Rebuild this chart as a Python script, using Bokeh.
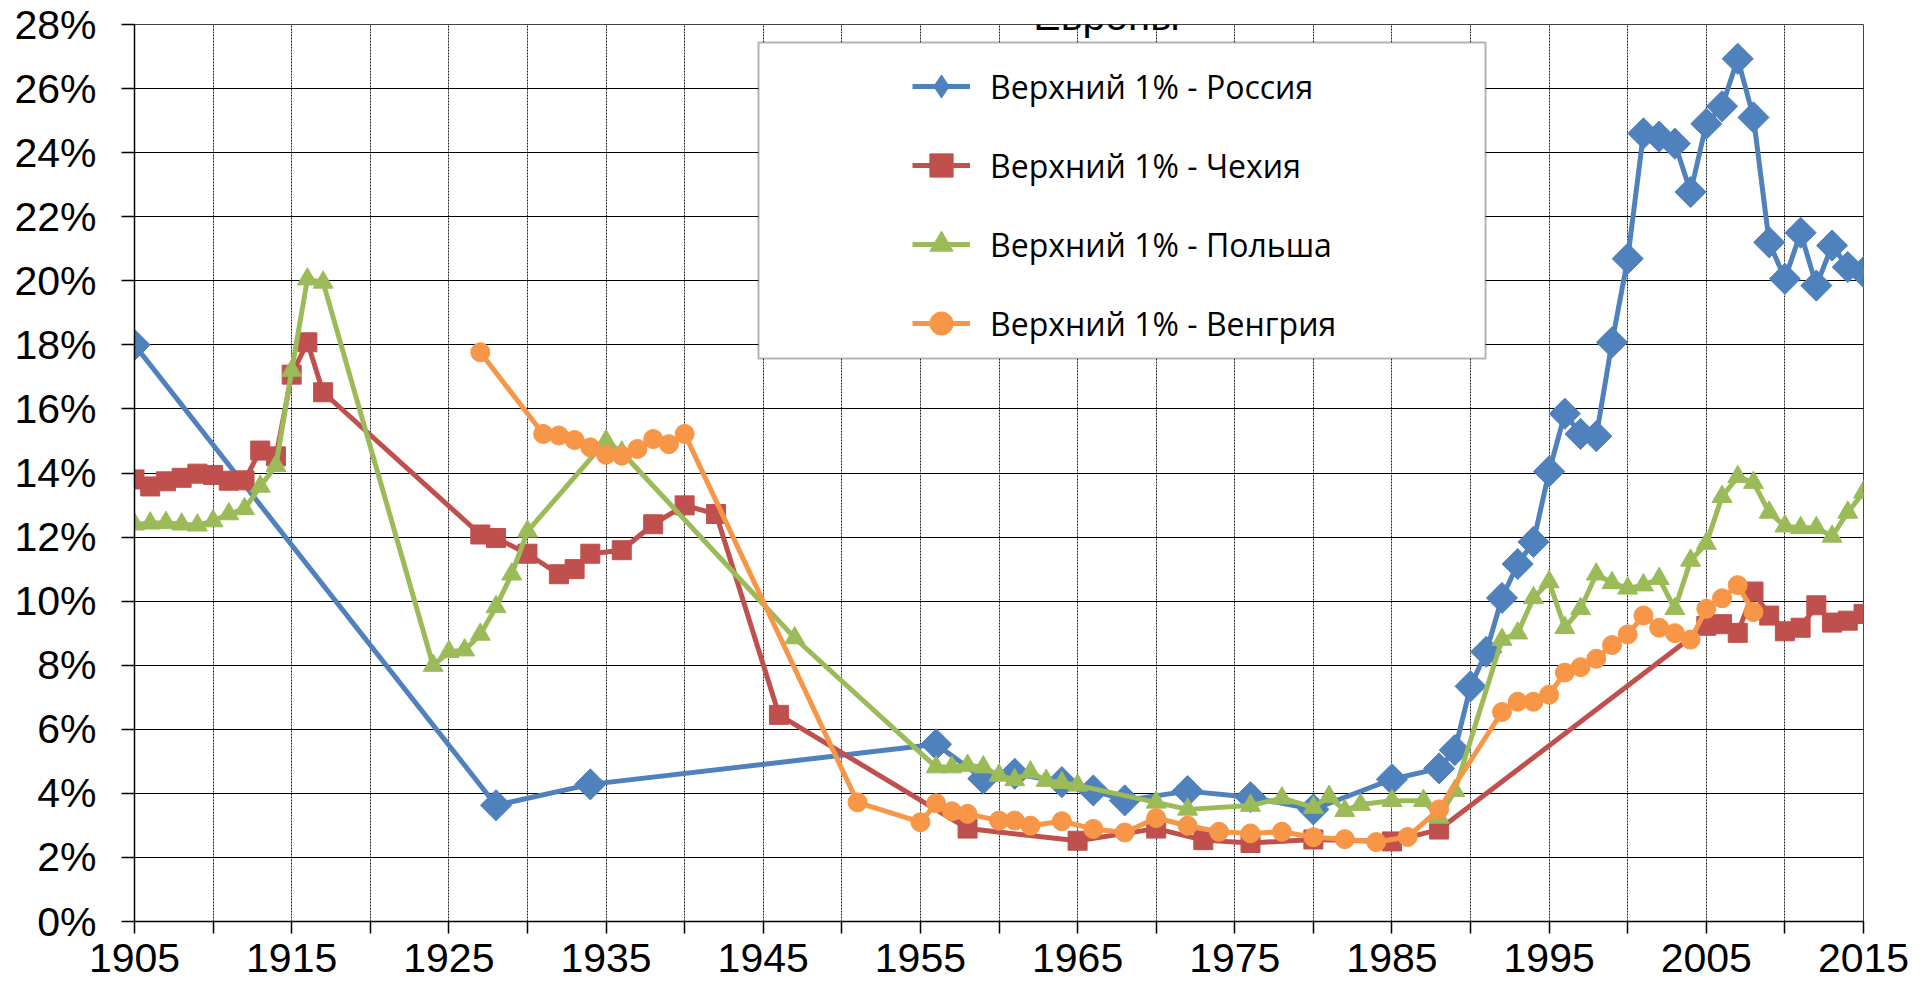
import numpy as np
from bokeh.plotting import figure
from bokeh.models import (Range1d, FixedTicker, PrintfTickFormatter, Legend,
                          LegendItem, BoxAnnotation, Label)
from bokeh.embed import file_html
from bokeh.resources import INLINE

# ---------------- data ----------------
russia_years = [1905, 1928, 1934, 1956, 1959, 1961, 1964, 1966, 1968, 1972, 1976, 1980,
                1985, 1988, 1989, 1990, 1991, 1992, 1993, 1994, 1995, 1996, 1997, 1998,
                1999, 2000, 2001, 2002, 2003, 2004, 2005, 2006, 2007, 2008, 2009, 2010,
                2011, 2012, 2013, 2014, 2015]
russia_share = [18.0, 3.63, 4.28, 5.53, 4.46, 4.61, 4.35, 4.09, 3.78, 4.07, 3.88, 3.5,
                4.44, 4.78, 5.35, 7.34, 8.42, 10.1, 11.16, 11.85, 14.05, 15.85, 15.22, 15.15,
                18.08, 20.69, 24.6, 24.5, 24.28, 22.77, 24.9, 25.45, 26.93, 25.1, 21.2, 20.06,
                21.5, 19.85, 21.1, 20.43, 20.27]

czech_years = [1905, 1906, 1907, 1908, 1909, 1910, 1911, 1912, 1913, 1914, 1915, 1916,
               1917, 1927, 1928, 1930, 1932, 1933, 1934, 1936, 1938, 1940, 1942, 1946,
               1958, 1965, 1970, 1973, 1976, 1980, 1985, 1988, 2005, 2006, 2007, 2008,
               2009, 2010, 2011, 2012, 2013, 2014, 2015]
czech_share = [13.8, 13.58, 13.74, 13.85, 13.98, 13.94, 13.76, 13.77, 14.7, 14.52, 17.07, 18.08,
               16.52, 12.08, 11.97, 11.48, 10.84, 11.0, 11.48, 11.59, 12.4, 12.99, 12.72, 6.45,
               2.9, 2.52, 2.9, 2.54, 2.45, 2.56, 2.5, 2.87, 9.23, 9.28, 9.01, 10.3,
               9.55, 9.06, 9.17, 9.87, 9.33, 9.39, 9.6]

poland_years = [1905, 1906, 1907, 1908, 1909, 1910, 1911, 1912, 1913, 1914, 1915, 1916,
                1917, 1924, 1925, 1926, 1927, 1928, 1929, 1930, 1935, 1936, 1947, 1956,
                1957, 1958, 1959, 1960, 1961, 1962, 1963, 1964, 1965, 1970, 1972, 1976,
                1978, 1980, 1981, 1982, 1983, 1985, 1987, 1988, 1989, 1992, 1993, 1994,
                1995, 1996, 1997, 1998, 1999, 2000, 2001, 2002, 2003, 2004, 2005, 2006,
                2007, 2008, 2009, 2010, 2011, 2012, 2013, 2014, 2015]
poland_share = [12.4, 12.43, 12.45, 12.4, 12.37, 12.5, 12.72, 12.88, 13.58, 14.23, 17.2, 20.05,
                19.95, 7.99, 8.42, 8.47, 8.96, 9.82, 10.84, 12.18, 15.0, 14.65, 8.85, 4.82,
                4.82, 4.87, 4.82, 4.56, 4.42, 4.66, 4.4, 4.33, 4.25, 3.72, 3.5, 3.62,
                3.85, 3.56, 3.9, 3.46, 3.65, 3.77, 3.77, 3.25, 4.08, 8.8, 9.0, 10.1,
                10.6, 9.17, 9.76, 10.84, 10.57, 10.4, 10.5, 10.7, 9.76, 11.27, 11.8, 13.26,
                13.88, 13.7, 12.77, 12.34, 12.29, 12.29, 12.02, 12.77, 13.4]

hungary_years = [1927, 1931, 1932, 1933, 1934, 1935, 1936, 1937, 1938, 1939, 1940, 1951,
                 1955, 1956, 1957, 1958, 1960, 1961, 1962, 1964, 1966, 1968, 1970, 1972,
                 1974, 1976, 1978, 1980, 1982, 1984, 1986, 1988, 1992, 1993, 1994, 1995,
                 1996, 1997, 1998, 1999, 2000, 2001, 2002, 2003, 2004, 2005, 2006, 2007,
                 2008]
hungary_share = [17.77, 15.22, 15.17, 15.03, 14.8, 14.57, 14.54, 14.75, 15.06, 14.9, 15.22, 3.72,
                 3.1, 3.69, 3.44, 3.36, 3.15, 3.15, 2.99, 3.13, 2.89, 2.78, 3.23, 2.99,
                 2.8, 2.75, 2.8, 2.63, 2.57, 2.48, 2.64, 3.5, 6.54, 6.86, 6.86, 7.08,
                 7.77, 7.94, 8.2, 8.63, 8.96, 9.55, 9.17, 9.0, 8.8, 9.76, 10.09, 10.5,
                 9.66]

series_names = ["Верхний 1% - Россия", "Верхний 1% - Чехия",
                "Верхний 1% - Польша", "Верхний 1% - Венгрия"]
title_text = "Европы"
y_ticks = [0, 2, 4, 6, 8, 10, 12, 14, 16, 18, 20, 22, 24, 26, 28]
x_ticks = list(range(1905, 2016, 5))
x_labeled = list(range(1905, 2016, 10))

# ---------------- styles ----------------
BLUE, RED, GREEN, ORANGE = "#4F81BD", "#C0504D", "#9BBB59", "#F79646"
LW = 5

p = figure(width=1926, height=990,
           x_range=Range1d(1905, 2015), y_range=Range1d(0, 28),
           output_backend="svg", toolbar_location=None,
           min_border_left=134, min_border_right=63,
           min_border_top=24, min_border_bottom=69)
p.background_fill_color = "white"
p.border_fill_color = "white"
p.outline_line_color = "#444444"
p.outline_line_width = 1

# axes
for ax in (p.xaxis[0], p.yaxis[0]):
    ax.axis_line_color = "black"
    ax.axis_line_width = 1.5
    ax.major_tick_line_color = "black"
    ax.major_tick_line_width = 1.5
    ax.major_tick_in = 0
    ax.minor_tick_line_color = None
    ax.major_label_text_font = "Liberation Sans"
    ax.major_label_text_font_size = "41px"
    ax.major_label_text_color = "black"

p.xaxis.ticker = FixedTicker(ticks=x_ticks)
p.xaxis.major_label_overrides = {t: (str(t) if t in x_labeled else "") for t in x_ticks}
p.xaxis.major_tick_out = 12
p.xaxis.major_label_standoff = 10

p.yaxis.ticker = FixedTicker(ticks=y_ticks)
p.yaxis.formatter = PrintfTickFormatter(format="%d%%")
p.yaxis.major_tick_out = 13
p.yaxis.major_label_standoff = 25

# grids
p.xgrid.ticker = FixedTicker(ticks=x_ticks)
p.xgrid.grid_line_color = "#222222"
p.xgrid.grid_line_dash = "2 1"
p.xgrid.grid_line_width = 1
p.ygrid.ticker = FixedTicker(ticks=y_ticks)
p.ygrid.grid_line_color = "black"
p.ygrid.grid_line_width = 1

# ---------------- series ----------------
ru_line = p.line(russia_years, russia_share, line_color=BLUE, line_width=LW, line_join="round")
ru_leg = p.scatter(russia_years, russia_share, marker="diamond", size=10,
                   fill_color=BLUE, line_color=BLUE)
ru_pts = p.scatter(russia_years, russia_share, marker="square", size=22, angle=np.pi / 4,
                   fill_color=BLUE, line_color=BLUE)

cz_line = p.line(czech_years, czech_share, line_color=RED, line_width=LW, line_join="round")
cz_pts = p.scatter(czech_years, czech_share, marker="square", size=19,
                   fill_color=RED, line_color=RED)

pl_line = p.line(poland_years, poland_share, line_color=GREEN, line_width=LW, line_join="round")
pl_pts = p.scatter(poland_years, poland_share, marker="triangle", size=20,
                   fill_color=GREEN, line_color=GREEN)

hu_line = p.line(hungary_years, hungary_share, line_color=ORANGE, line_width=LW, line_join="round")
hu_pts = p.scatter(hungary_years, hungary_share, marker="circle", size=19,
                   fill_color=ORANGE, line_color=ORANGE)

# ---------------- legend ----------------
legend_box = BoxAnnotation(left=624, right=1351, top=879, bottom=563,
                           left_units="screen", right_units="screen",
                           top_units="screen", bottom_units="screen",
                           fill_color="white", fill_alpha=1.0,
                           line_color="black", line_width=2, level="annotation")
p.add_layout(legend_box)

legend = Legend(items=[
    LegendItem(label=series_names[0], renderers=[ru_line, ru_leg]),
    LegendItem(label=series_names[1], renderers=[cz_line, cz_pts]),
    LegendItem(label=series_names[2], renderers=[pl_line, pl_pts]),
    LegendItem(label=series_names[3], renderers=[hu_line, hu_pts]),
], location=(778, 567))
legend.padding = 0
legend.margin = 0
legend.border_line_color = None
legend.background_fill_alpha = 0
legend.glyph_width = 58
legend.glyph_height = 62
legend.label_height = 62
legend.spacing = 17
legend.label_standoff = 20
legend.label_text_font = "Open Sans"
legend.label_text_font_size = "32px"
legend.label_text_color = "black"
p.add_layout(legend)

# ---------------- cut-off title (cropped at the top edge, as in the original) ----------------
title = Label(x=972, y=906, x_units="screen", y_units="screen", text=title_text,
              text_align="center", text_baseline="alphabetic",
              text_font="Liberation Sans", text_font_size="41px", text_color="black")
p.add_layout(title)

open("out.html", "w", encoding="utf-8").write(file_html(p, INLINE))
